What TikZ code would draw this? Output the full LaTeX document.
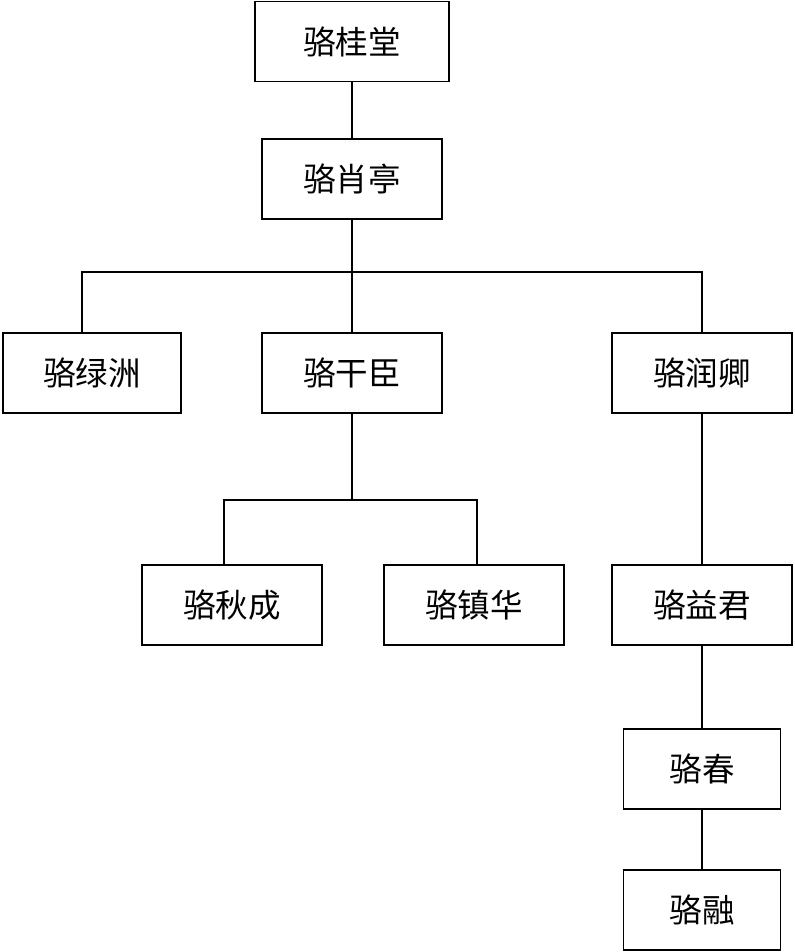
\documentclass[tikz,border=0pt]{standalone}
\usepackage{fontspec}
\newfontfamily\cjk{Noto Sans CJK SC}
\usepackage{tikz}
\usetikzlibrary{calc}

\begin{document}
\begin{tikzpicture}[x=0.02cm,y=-0.02cm,line width=1.1pt,
    person/.style={draw,line width=1.1pt,minimum width=3.6cm,minimum height=1.6cm,
      inner sep=0pt,outer sep=0pt,font=\cjk\fontsize{18.5}{22}\selectfont}]
  \useasboundingbox (0,0) rectangle (794,952);
  \node[person,minimum width=3.88cm] (guitang) at (352,41.5) {骆桂堂};
  \node[person] (xiaoting) at (352,179) {骆肖亭};
  \node[person,minimum width=3.56cm] (lvzhou) at (92,373) {骆绿洲};
  \node[person] (ganchen) at (352,373) {骆干臣};
  \node[person] (runqing) at (702,373) {骆润卿};
  \node[person] (qiucheng) at (232,605) {骆秋成};
  \node[person] (zhenhua) at (474,605) {骆镇华};
  \node[person] (yijun) at (702,605) {骆益君};
  \node[person,minimum width=3.14cm] (chun) at (702,769) {骆春};
  \node[person,minimum width=3.14cm] (rong) at (702,910) {骆融};
  \coordinate (bus1) at (352,272);
  \coordinate (bus2) at (352,500);
  \draw (guitang) -- (xiaoting);
  \draw (xiaoting) -- (bus1);
  \draw (bus1) -| ($(lvzhou.north)+(-10,0)$);
  \draw (bus1) -| (runqing);
  \draw (bus1) -- (ganchen);
  \draw (ganchen) -- (bus2);
  \draw (bus2) -| ($(qiucheng.north)+(-8,0)$);
  \draw (bus2) -| ($(zhenhua.north)+(3,0)$);
  \draw (runqing) -- (yijun);
  \draw (yijun) -- (chun);
  \draw (chun) -- (rong);
\end{tikzpicture}
\end{document}
